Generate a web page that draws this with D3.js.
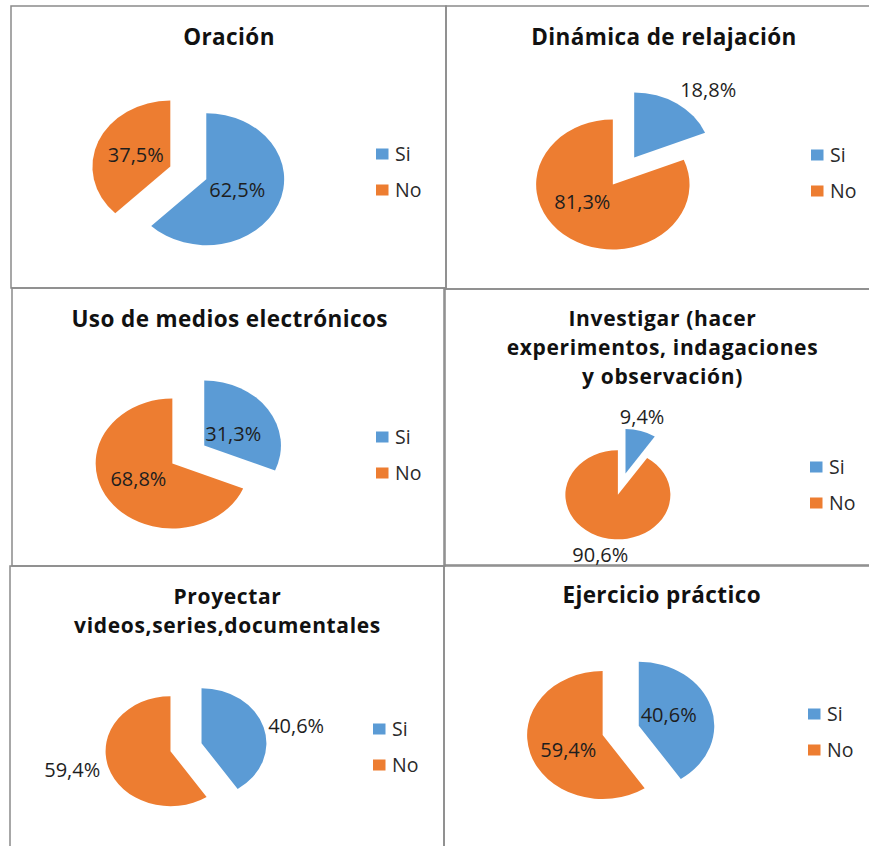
<!DOCTYPE html>
<html>
<head>
<meta charset="utf-8">
<script src="https://cdn.jsdelivr.net/npm/d3@7"></script>
<style>
  html, body { margin: 0; padding: 0; background: #fff; }
  svg { display: block; }
</style>
</head>
<body>
<svg id="chart" width="869" height="846"></svg>
<script>
// ---------------- DATA ----------------
const categories = ["Si", "No"];
const chartTitles = [
  ["Oración"],
  ["Dinámica de relajación"],
  ["Uso de medios electrónicos"],
  ["Investigar (hacer", "experimentos, indagaciones", "y observación)"],
  ["Proyectar", "videos,series,documentales"],
  ["Ejercicio práctico"]
];
const siValues = [62.5, 18.8, 31.3, 9.4, 40.6, 40.6];
const noValues = [37.5, 81.3, 68.8, 90.6, 59.4, 59.4];

// ---------------- LAYOUT ----------------
const colors = { "Si": "#5B9BD5", "No": "#ED7D31" };
const stretchX = 1.18;      // pies are drawn slightly wider than tall
const explode = 0.25;       // fraction of radius each slice is pulled out
const panels = [
  { box: [11, 6, 446, 288],  cx: 188.3, cy: 172.9, r: 66,   titleX: 229,   titleY: 45,    legX: 376, legY: 154,
    lab: [[0.43, 0], [0.48, 0]] },
  { box: [446, 6, 875, 289], cx: 623.5, cy: 171,   r: 65,   titleX: 664,   titleY: 44.5,  legX: 811, legY: 155,
    lab: [[1.42, 9], [0.48, 22]] },
  { box: [12, 288, 445, 566], cx: 188.3, cy: 454.5, r: 65,  titleX: 229.7, titleY: 326.7, legX: 376, legY: 437,
    lab: [[0.42, 8], [0.5, 6]] },
  { box: [444, 289, 875, 565], cx: 621.7, cy: 484.2, r: 44.5, titleX: 662.5, titleY: 325.5, legX: 810, legY: 467,
    lab: [[1.31, -3], [1.39, -3]] },
  { box: [10, 566, 444, 852], cx: 186, cy: 747.2, r: 55,    titleX: 227.5, titleY: 604,   legX: 373, legY: 729,
    lab: [[1.49, 5], [1.55, 4.5]] },
  { box: [444, 566, 875, 852], cx: 620.7, cy: 730.4, r: 64, titleX: 661.7, titleY: 603.3, legX: 808, legY: 714,
    lab: [[0.43, -6], [0.51, -10]] }
];
const titleLineHeight = 29;
const fontFamily = "'Open Sans', 'Noto Sans', sans-serif";

// ---------------- DRAW ----------------
const svg = d3.select("#chart");
const fmt = v => d3.format(".1f")(v).replace(".", ",") + "%";
const pie = d3.pie().sort(null).value(d => d.value);

panels.forEach((p, i) => {
  // panel border
  svg.append("rect")
    .attr("x", p.box[0]).attr("y", p.box[1])
    .attr("width", p.box[2] - p.box[0]).attr("height", p.box[3] - p.box[1])
    .attr("fill", "none").attr("stroke", "#8a8a8a").attr("stroke-width", 1.5);
});

panels.forEach((p, i) => {
  const g = svg.append("g");
  const data = categories.map((c, j) => ({ cat: c, value: j === 0 ? siValues[i] : noValues[i] }));
  const arcs = pie(data);
  const arc = d3.arc().innerRadius(0).outerRadius(p.r);

  // title (one text element per line)
  const multi = chartTitles[i].length > 1;
  chartTitles[i].forEach((line, k) => {
    g.append("text")
      .attr("x", p.titleX).attr("y", p.titleY + k * titleLineHeight)
      .attr("text-anchor", "middle")
      .attr("font-family", fontFamily).attr("font-weight", 700)
      .attr("font-size", multi ? 21 : 22.5)
      .attr("letter-spacing", multi ? "0.65px" : "0.4px")
      .attr("fill", "#111")
      .text(line);
  });

  // pie
  const pg = g.append("g").attr("transform", `translate(${p.cx},${p.cy}) scale(${stretchX},1)`);
  arcs.forEach(d => {
    const mid = (d.startAngle + d.endAngle) / 2;
    const ox = Math.sin(mid) * explode * p.r;
    const oy = -Math.cos(mid) * explode * p.r;
    pg.append("path")
      .attr("d", arc(d))
      .attr("transform", `translate(${ox},${oy})`)
      .attr("fill", colors[d.data.cat]);
  });

  // labels
  arcs.forEach((d, j) => {
    const mid = (d.startAngle + d.endAngle) / 2;
    const [k, delta] = p.lab[j];
    const a = mid + delta * Math.PI / 180;
    const ux = Math.sin(mid) * explode * p.r + Math.sin(a) * k * p.r;
    const uy = -Math.cos(mid) * explode * p.r - Math.cos(a) * k * p.r;
    g.append("text")
      .attr("x", p.cx + ux * stretchX).attr("y", p.cy + uy)
      .attr("dy", "0.36em")
      .attr("text-anchor", "middle")
      .attr("font-family", fontFamily).attr("font-size", 20)
      .attr("fill", "#1e1e1e")
      .text(fmt(d.data.value));
  });

  // legend
  categories.forEach((c, j) => {
    const y = p.legY + j * 36;
    g.append("rect")
      .attr("x", p.legX).attr("y", y - 5.5)
      .attr("width", 12.5).attr("height", 11)
      .attr("fill", colors[c]);
    g.append("text")
      .attr("x", p.legX + 19).attr("y", y)
      .attr("dy", "0.36em")
      .attr("font-family", fontFamily).attr("font-size", 19.5)
      .attr("fill", "#2a2a2a")
      .text(c);
  });
});
</script>
</body>
</html>
